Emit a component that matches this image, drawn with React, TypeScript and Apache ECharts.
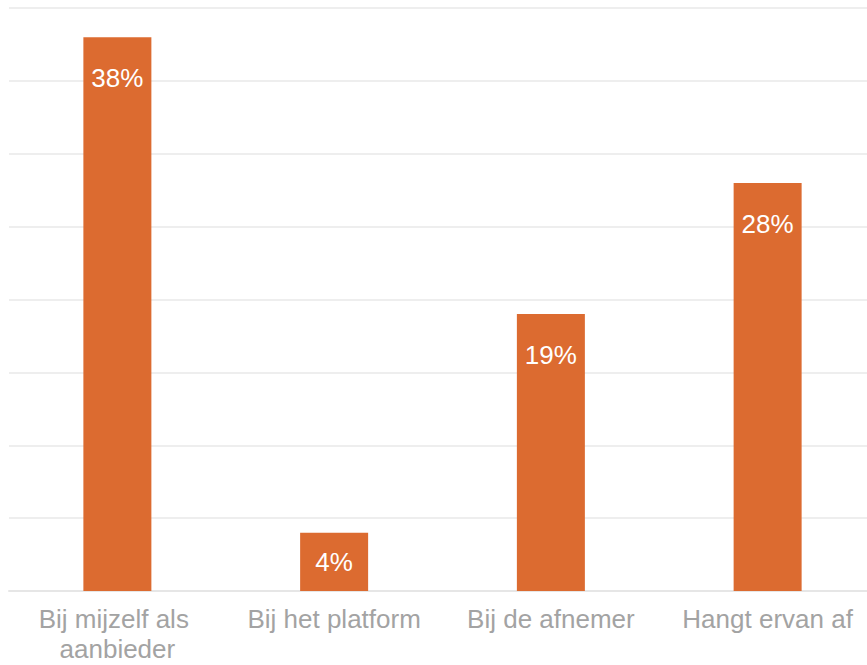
import React, { useEffect, useRef } from "react";
import * as echarts from "echarts";

const categories = ["Bij mijzelf als aanbieder", "Bij het platform", "Bij de afnemer", "Hangt ervan af"];
const values = [38, 4, 19, 28];
const yTicks = [0, 5, 10, 15, 20, 25, 30, 35, 40];

const FONT = "'Liberation Sans', Arial, Helvetica, sans-serif";

export default function App() {
  const ref = useRef<HTMLDivElement>(null);
  useEffect(() => {
    if (!ref.current) return;
    const chart = echarts.init(ref.current, undefined, { renderer: "svg" });
    chart.setOption({
      animation: false,
      grid: { left: 9, right: 0, top: 8, bottom: 74, containLabel: false },
      xAxis: {
        type: "category",
        data: categories,
        axisLine: { show: true, lineStyle: { color: "#e6e6e6", width: 2 } },
        axisTick: { show: false },
        axisLabel: {
          interval: 0,
          color: "#a3a3a3",
          fontSize: 26,
          fontFamily: FONT,
          margin: 13,
          lineHeight: 30,
          width: 205,
          overflow: "break",
        },
      },
      yAxis: {
        type: "value",
        min: yTicks[0],
        max: yTicks[yTicks.length - 1],
        interval: 5,
        axisLabel: { show: false },
        axisLine: { show: false },
        axisTick: { show: false },
        splitLine: { show: true, lineStyle: { color: "#e8e8e8", width: 1.5 } },
      },
      series: [
        {
          type: "bar",
          barWidth: 68,
          data: values.map((v) => ({
            value: v,
            label: v < 8 ? { position: "inside" } : { position: "insideTop", distance: 28 },
          })),
          itemStyle: { color: "#dc6b30" },
          label: {
            show: true,
            color: "#ffffff",
            fontSize: 26,
            fontFamily: FONT,
            formatter: (p: any) => p.value + "%",
          },
        },
      ],
    });
    return () => chart.dispose();
  }, []);
  return (
    <div style={{ position: "absolute", left: 0, top: 0, width: 867, height: 665, overflow: "hidden", background: "#fff" }}>
      <div ref={ref} style={{ position: "absolute", left: 0, top: 0, width: 876, height: 665 }} />
    </div>
  );
}
